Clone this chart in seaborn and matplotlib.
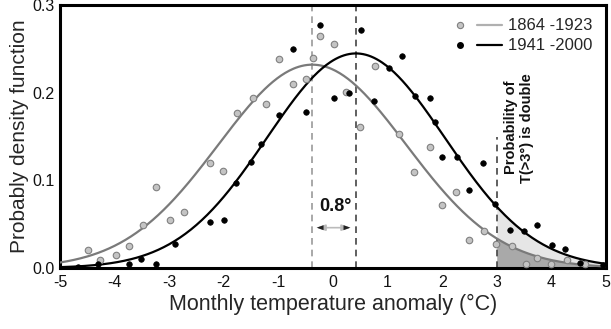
import numpy as np
import pandas as pd
import matplotlib
matplotlib.use("Agg")
import matplotlib.pyplot as plt
import seaborn as sns
from matplotlib.lines import Line2D
from matplotlib.legend_handler import HandlerTuple

# ---- data ----
periods = ["1864 -1923", "1941 -2000"]
fit_mean = [-0.38, 0.42]     # fitted normal means (°C)
fit_sd = [1.72, 1.63]        # fitted normal standard deviations

early_x = [-4.49, -4.26, -3.98, -3.73, -3.48, -3.24, -2.98, -2.73, -2.26, -2.01,
           -1.76, -1.47, -1.23, -0.99, -0.74, -0.50, -0.37, -0.24, 0.01, 0.23,
           0.50, 0.77, 1.20, 1.49, 1.78, 2.00, 2.26, 2.50, 2.76, 2.98,
           3.28, 3.53, 3.73, 4.00, 4.28, 4.62]
early_y = [0.020, 0.0095, 0.015, 0.0255, 0.0495, 0.0926, 0.0545, 0.0644, 0.120, 0.1105,
           0.177, 0.194, 0.187, 0.238, 0.210, 0.216, 0.239, 0.265, 0.256, 0.201,
           0.161, 0.230, 0.153, 0.110, 0.138, 0.072, 0.087, 0.032, 0.042, 0.027,
           0.025, 0.005, 0.011, 0.005, 0.009, 0.004]

late_x = [-4.67, -4.30, -3.73, -3.52, -3.24, -2.89, -2.25, -2.00, -1.77, -1.50,
          -1.31, -0.99, -0.74, -0.49, -0.24, 0.01, 0.29, 0.52, 0.75, 1.02,
          1.26, 1.51, 1.78, 1.87, 1.99, 2.27, 2.50, 2.75, 2.96, 3.24,
          3.50, 3.73, 4.01, 4.25, 4.52, 4.94]
late_y = [0.0015, 0.0046, 0.0046, 0.0107, 0.0046, 0.027, 0.0526, 0.0549, 0.097, 0.121,
          0.141, 0.175, 0.250, 0.178, 0.277, 0.194, 0.200, 0.272, 0.190, 0.228,
          0.242, 0.196, 0.194, 0.167, 0.127, 0.127, 0.0895, 0.120, 0.0735, 0.0434,
          0.0427, 0.049, 0.0263, 0.0213, 0.0053, 0.0034]

x_ticks = [-5, -4, -3, -2, -1, 0, 1, 2, 3, 4, 5]
y_ticks = [0.0, 0.1, 0.2, 0.3]
y_tick_labels = ["0.0", "0.1", "0.2", "0.3"]
threshold = 3.0
shift_label = "0.8°"

# ---- build tables ----
pts = pd.DataFrame({
    "x": early_x + late_x,
    "y": early_y + late_y,
    "period": [periods[0]] * len(early_x) + [periods[1]] * len(late_x),
})
grid = np.linspace(-5, 5, 401)
curves = []
for p, m, s in zip(periods, fit_mean, fit_sd):
    dens = np.exp(-0.5 * ((grid - m) / s) ** 2) / (s * np.sqrt(2 * np.pi))
    curves.append(pd.DataFrame({"x": grid, "y": dens, "period": p}))
curves = pd.concat(curves, ignore_index=True)

# ---- style ----
sns.set_style("white")
plt.rcParams["font.family"] = ["Liberation Sans", "DejaVu Sans"]

line_cols = {periods[0]: "#7a7a7a", periods[1]: "#000000"}

fig = plt.figure(figsize=(6.11, 3.29), dpi=100)
ax = fig.add_axes([0.0982, 0.1854, 0.8936, 0.7994])

# shaded tail areas
for p, col in [(periods[1], "#e6e6e6"), (periods[0], "#a9a9a9")]:
    c = curves[(curves.period == p) & (curves.x >= threshold)]
    ax.fill_between(c.x, 0, c.y, color=col, lw=0, zorder=1)

sns.lineplot(data=curves, x="x", y="y", hue="period", palette=line_cols,
             linewidth=1.6, legend=False, ax=ax, zorder=3)

sns.scatterplot(data=pts[pts.period == periods[0]], x="x", y="y", ax=ax,
                color="#c4c4c4", edgecolor="#808080", linewidth=0.8, s=22,
                legend=False, zorder=4)
sns.scatterplot(data=pts[pts.period == periods[1]], x="x", y="y", ax=ax,
                color="black", edgecolor="black", linewidth=0.5, s=16,
                legend=False, zorder=5)

# dashed reference lines
ax.axvline(fit_mean[0], color="#9a9a9a", ls=(0, (4, 3)), lw=1.2, zorder=2)
ax.axvline(fit_mean[1], color="#444444", ls=(0, (4, 3)), lw=1.2, zorder=2)
ax.plot([threshold, threshold], [0, 0.149], color="#444444", ls=(0, (4, 3)),
        lw=1.2, zorder=2)

# 0.8 degree annotation
ax.annotate("", xy=(-0.30, 0.046), xytext=(0.32, 0.046),
            arrowprops=dict(arrowstyle="<|-|>,head_length=0.5,head_width=0.18",
                            color="#bbbbbb", lw=1.2, shrinkA=0, shrinkB=0), zorder=6)
ax.annotate("", xy=(-0.30, 0.046), xytext=(-0.05, 0.046),
            arrowprops=dict(arrowstyle="-|>,head_length=0.5,head_width=0.18",
                            color="#222222", lw=0, shrinkA=0, shrinkB=0), zorder=7)
ax.annotate("", xy=(0.32, 0.046), xytext=(0.05, 0.046),
            arrowprops=dict(arrowstyle="-|>,head_length=0.5,head_width=0.18",
                            color="#222222", lw=0, shrinkA=0, shrinkB=0), zorder=7)
ax.text(0.05, 0.0697, shift_label, ha="center", va="center", fontsize=13,
        fontweight="bold", color="#111111")

ax.text(3.40, 0.160, "Probability of\nT(>3°) is double", rotation=90,
        ha="center", va="center", fontsize=10.5, fontweight="bold",
        linespacing=1.2, color="#111111")

# axes
ax.set_xlim(-5, 5)
ax.set_ylim(0, 0.3)
ax.set_xticks(x_ticks)
ax.set_xticklabels([str(t) for t in x_ticks])
ax.set_yticks(y_ticks)
ax.set_yticklabels(y_tick_labels)
ax.tick_params(axis="both", length=0, labelsize=11.5, colors="#111111")
ax.tick_params(axis="x", pad=5)
ax.tick_params(axis="y", pad=4)
ax.set_xlabel("Monthly temperature anomaly (°C)", fontsize=15.5, labelpad=3)
ax.set_ylabel("Probably density function", fontsize=15, labelpad=2)
for sp in ax.spines.values():
    sp.set_visible(True)
    sp.set_color("black")
    sp.set_linewidth(2.2)

# legend
h1 = (Line2D([], [], ls="none", marker="o", ms=4.5, mfc="#c4c4c4", mec="#808080", mew=0.8),
      Line2D([], [], color="#b0b0b0", lw=1.6))
h2 = (Line2D([], [], ls="none", marker="o", ms=4, mfc="black", mec="black"),
      Line2D([], [], color="black", lw=1.6))
ax.legend([h1, h2], periods, handler_map={tuple: HandlerTuple(ndivide=None, pad=0.3)},
          loc="upper right", bbox_to_anchor=(1.0, 1.0), frameon=False,
          fontsize=12, handlelength=3.2, handletextpad=0.4, labelspacing=0.3,
          borderaxespad=0.4)

fig.savefig("out.png", dpi=100)
